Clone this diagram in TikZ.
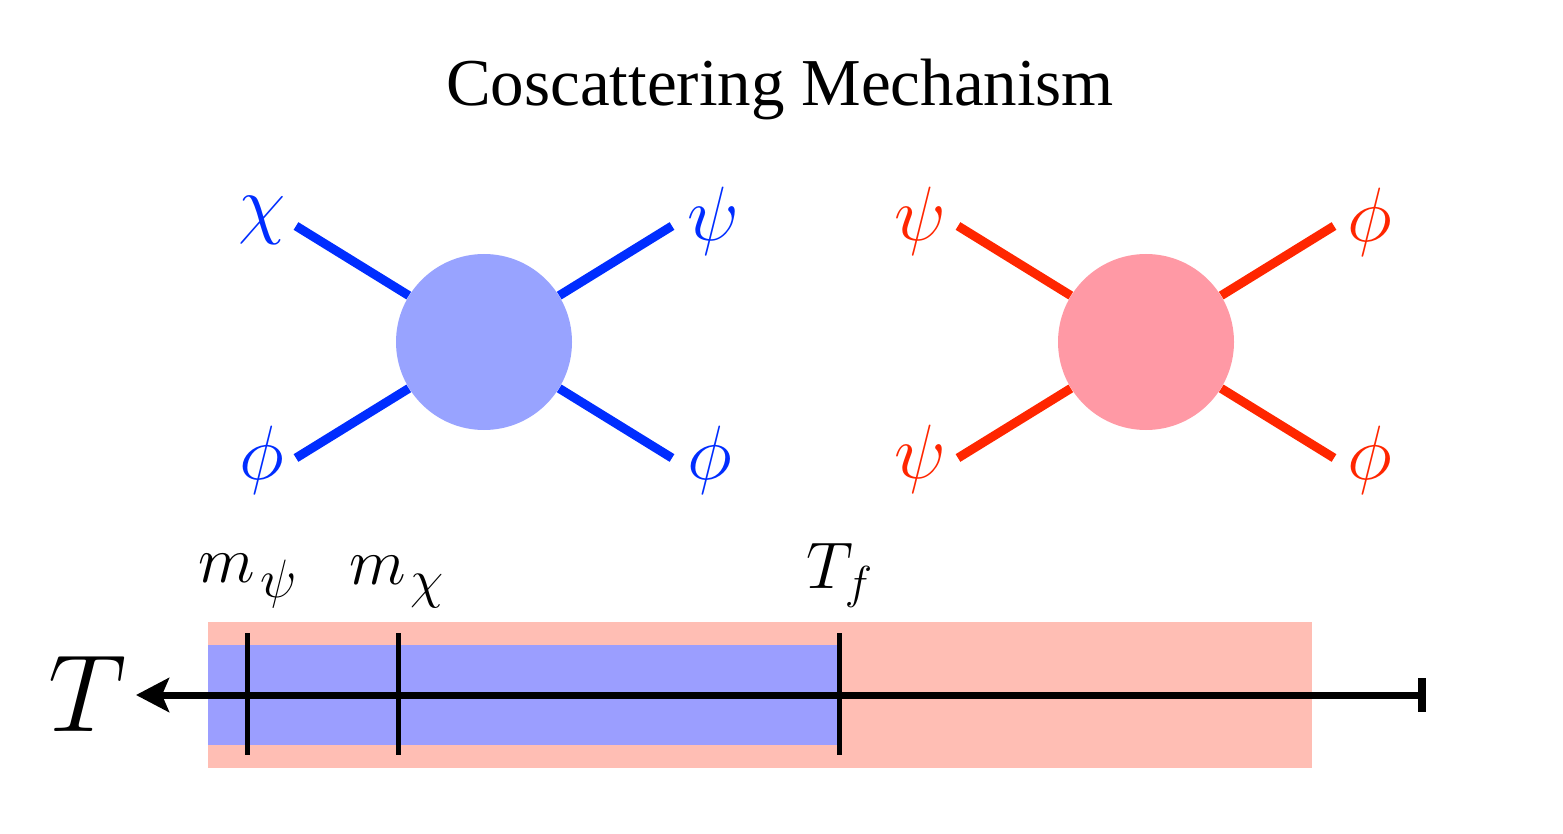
\RequirePackage{fix-cm}
\documentclass[tikz,border=0pt]{standalone}
\usepackage{fontspec}
\usetikzlibrary{arrows.meta}
\newfontfamily\titlefont{Liberation Serif}
\newcommand{\bigsub}[1]{\kern2.5pt\lower1.5pt\hbox{\fontsize{27}{30}\selectfont$#1$}}
\definecolor{bline}{RGB}{0,45,255}
\definecolor{bblob}{RGB}{152,163,255}
\definecolor{rline}{RGB}{255,38,0}
\definecolor{rblob}{RGB}{255,153,165}
\definecolor{pinkband}{RGB}{255,190,180}
\definecolor{blueband}{RGB}{155,158,255}
\tikzset{
  blob/.style={circle,minimum size=88pt,inner sep=0pt,draw=none},
  leg/.style={line width=4.5pt},
  glabel/.style={inner sep=0pt,font=\fontsize{38.5}{42}\selectfont},
  tlabel/.style={inner sep=0pt,font=\fontsize{33}{38}\selectfont},
  tick/.style={line width=2.5pt,black},
}
\begin{document}
\begin{tikzpicture}[x=0.5pt,y=-0.5pt]
\useasboundingbox (0,0) rectangle (1563,834);
% title
\node[inner sep=0pt,font=\titlefont\fontsize{33.5}{38}\selectfont] (title) at (780,89) {Coscattering Mechanism};
% left diagram
\node[blob,fill=bblob] (b1) at (484,342) {};
\coordinate (b1a) at (296,226);
\coordinate (b1b) at (672,226);
\coordinate (b1c) at (296,458);
\coordinate (b1d) at (672,458);
\draw[leg,bline] (b1a) -- (b1);
\draw[leg,bline] (b1b) -- (b1);
\draw[leg,bline] (b1c) -- (b1);
\draw[leg,bline] (b1d) -- (b1);
\node[glabel,text=bline] (l1a) at (262,220) {$\chi$};
\node[glabel,text=bline] (l1b) at (713,221) {$\psi$};
\node[glabel,text=bline] (l1c) at (262,460) {$\phi$};
\node[glabel,text=bline] (l1d) at (710,460) {$\phi$};
% right diagram
\node[blob,fill=rblob] (b2) at (1146,342) {};
\coordinate (b2a) at (958,226);
\coordinate (b2b) at (1334,226);
\coordinate (b2c) at (958,458);
\coordinate (b2d) at (1334,458);
\draw[leg,rline] (b2a) -- (b2);
\draw[leg,rline] (b2b) -- (b2);
\draw[leg,rline] (b2c) -- (b2);
\draw[leg,rline] (b2d) -- (b2);
\node[glabel,text=rline] (l2a) at (920,221) {$\psi$};
\node[glabel,text=rline] (l2b) at (1370,222) {$\phi$};
\node[glabel,text=rline] (l2c) at (920,459) {$\psi$};
\node[glabel,text=rline] (l2d) at (1370,460) {$\phi$};
% timeline bands
\fill[pinkband] (208,622) rectangle (1312,768);
\fill[blueband] (208,645) rectangle (838,745);
% axis
\coordinate (axR) at (1424,695);
\coordinate (axL) at (136,695);
\coordinate (barT) at (1422,678);
\coordinate (barB) at (1422,712);
\draw[line width=3.5pt,-{Stealth[length=16.5pt,width=17pt,inset=3.5pt]}] (axR) -- (axL);
\draw[line width=4pt] (barT) -- (barB);
% ticks
\coordinate (t1T) at (247,633); \coordinate (t1B) at (247,755);
\coordinate (t2T) at (398,633); \coordinate (t2B) at (398,755);
\coordinate (t3T) at (839,633); \coordinate (t3B) at (839,755);
\draw[tick] (t1T) -- (t1B);
\draw[tick] (t2T) -- (t2B);
\draw[tick] (t3T) -- (t3B);
% labels
\node[inner sep=0pt,font=\fontsize{55}{60}\selectfont] (Tlab) at (88,694) {$T$};
\node[tlabel] (mpsi) at (248,581) {$m_{\bigsub{\psi}}$};
\node[tlabel] (mchi) at (397,582) {$m_{\bigsub{\chi}}$};
\node[tlabel] (Tf) at (840,575) {$T_f$};
\end{tikzpicture}
\end{document}
